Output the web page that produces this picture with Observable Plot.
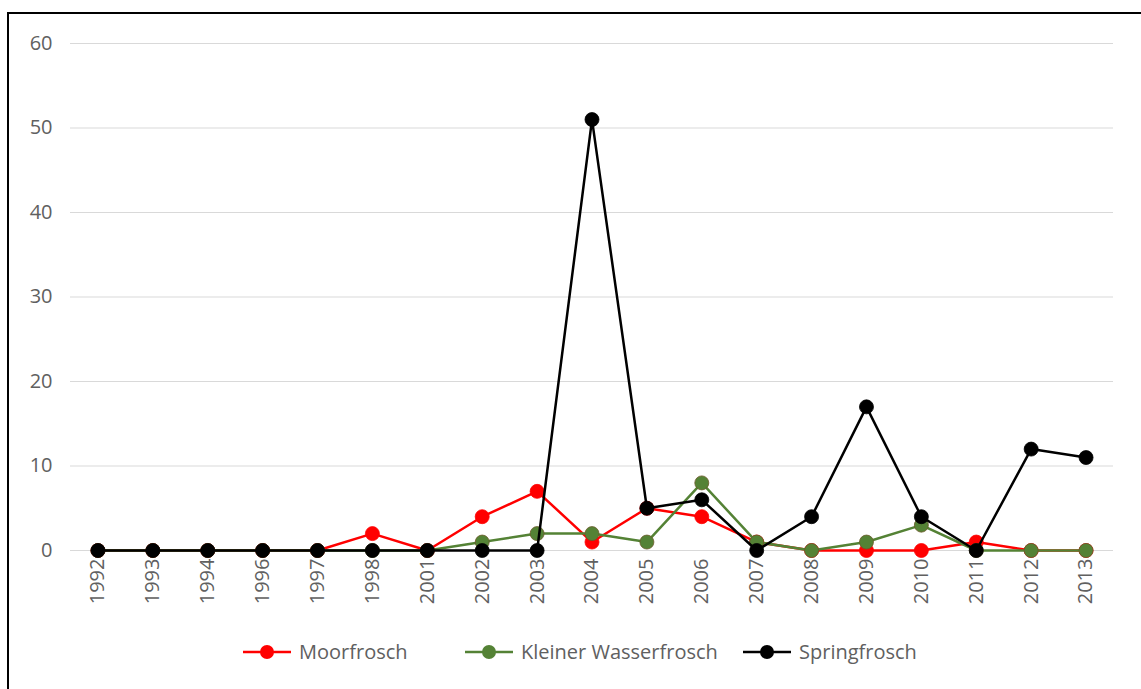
<!DOCTYPE html>
<html>
<head>
<meta charset="utf-8">
<script src="https://cdn.jsdelivr.net/npm/d3@7"></script>
<script src="https://cdn.jsdelivr.net/npm/@observablehq/plot@0.6"></script>
<style>
  html, body { margin: 0; padding: 0; background: #fff; }
  body { width: 1141px; height: 689px; position: relative; overflow: hidden; font-family: "Open Sans", Lato, sans-serif; }
  #frame { position: absolute; left: 7px; top: 12px; width: 1160px; height: 700px; border: 2px solid #000; box-sizing: border-box; }
  #chart { position: absolute; left: 0; top: 0; }
  .item { position: absolute; top: 638px; display: flex; align-items: center; font-size: 20px; color: #606060; white-space: nowrap; }
  .item svg { margin-right: 8px; }
</style>
</head>
<body>
<div id="frame"></div>
<div id="chart"></div>
<div id="legend"></div>
<script>
const years = ["1992","1993","1994","1996","1997","1998","2001","2002","2003","2004","2005","2006","2007","2008","2009","2010","2011","2012","2013"];
const moorfrosch = [0,0,0,0,0,2,0,4,7,1,5,4,1,0,0,0,1,0,0];
const kleinerWasserfrosch = [0,0,0,0,0,0,0,1,2,2,1,8,1,0,1,3,0,0,0];
const springfrosch = [0,0,0,0,0,0,0,0,0,51,5,6,0,4,17,4,0,12,11];
const seriesNames = ["Moorfrosch", "Kleiner Wasserfrosch", "Springfrosch"];
const seriesColors = ["#ff0000", "#548235", "#000000"];
const yTicks = [0,10,20,30,40,50,60];

const seriesValues = [moorfrosch, kleinerWasserfrosch, springfrosch];
const seriesData = seriesValues.map((vals, s) => years.map((y, i) => ({year: y, value: vals[i], series: seriesNames[s]})));

const marks = [
  Plot.gridY(yTicks, {stroke: "#d9d9d9", strokeOpacity: 1, strokeWidth: 1.2}),
  Plot.axisY(yTicks, {tickSize: 0, tickPadding: 18, fontSize: 20, fill: "#606060", label: null}),
  Plot.axisX({tickSize: 0, tickPadding: 8, tickRotate: -90, fontSize: 20, fill: "#606060", label: null})
];
seriesData.forEach((d, s) => {
  marks.push(Plot.line(d, {x: "year", y: "value", stroke: seriesColors[s], strokeWidth: 2.5}));
  marks.push(Plot.dot(d, {x: "year", y: "value", r: 7, fill: seriesColors[s], stroke: s === 1 ? "#6b5a2a" : seriesColors[s], strokeWidth: 0.8}));
});

const chart = Plot.plot({
  width: 1141,
  height: 620,
  marginTop: 43,
  marginBottom: 70,
  marginLeft: 70,
  marginRight: 28,
  style: {fontFamily: "'Open Sans', Lato, sans-serif", background: "transparent"},
  x: {type: "point", domain: years, padding: 0.5, round: false},
  y: {domain: [0, 60]},
  marks
});
document.getElementById("chart").appendChild(chart);

const legend = document.getElementById("legend");
const legendLeft = [243, 465, 743];
seriesNames.forEach((name, s) => {
  const item = document.createElement("div");
  item.className = "item";
  item.style.left = legendLeft[s] + "px";
  item.innerHTML = `<svg width="48" height="16"><line x1="0" x2="48" y1="8" y2="8" stroke="${seriesColors[s]}" stroke-width="2.5"/><circle cx="24" cy="8" r="7" fill="${seriesColors[s]}"/></svg><span>${name}</span>`;
  legend.appendChild(item);
});
</script>
</body>
</html>
